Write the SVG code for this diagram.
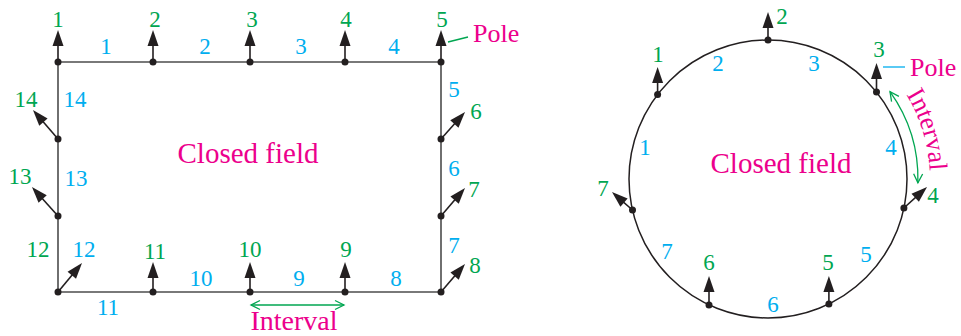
<svg xmlns="http://www.w3.org/2000/svg" width="961" height="336" viewBox="0 0 961 336">
<style>
text{font-family:'Liberation Serif','DejaVu Serif','Times New Roman',serif}
.g{fill:#00a651;font-size:23px;text-anchor:middle}
.b{fill:#00aeef;font-size:23px;text-anchor:middle}
.m{fill:#ec008c}
.edge{stroke:#4d4d4d;stroke-width:1.6;fill:none}
.circ{stroke:#231f20;stroke-width:1.5;fill:none}
.ar{stroke:#231f20;stroke-width:1.6;fill:none;marker-end:url(#ah)}
.dot{fill:#231f20}
.iv{stroke:#00a651;stroke-width:1.3;fill:none;marker-start:url(#oa);marker-end:url(#oa)}
</style>
<defs>
<marker id="ah" markerWidth="16" markerHeight="12" refX="8" refY="5.5" orient="auto" markerUnits="userSpaceOnUse" overflow="visible"><path d="M0,0 L16,5.5 L0,11 z" fill="#231f20"/></marker>
<marker id="oa" markerWidth="10" markerHeight="10" refX="9" refY="4.5" orient="auto-start-reverse" markerUnits="userSpaceOnUse" overflow="visible"><path d="M0,0 L9,4.5 L0,9" fill="none" stroke="#00a651" stroke-width="1.3"/></marker>
<path id="ivpath" d="M906.2,94.5 A162,162 0 0 1 927.5,207.1"/>
</defs>
<rect width="961" height="336" fill="#fff"/>

<g id="connectors">
<path class="edge" d="M58,62 H441 V292 H58 Z"/>
<circle class="circ" cx="768" cy="179" r="139"/>
<line class="ar" x1="58" y1="62" x2="58" y2="38"/>
<line class="ar" x1="153" y1="62" x2="153" y2="38"/>
<line class="ar" x1="250" y1="62" x2="250" y2="38"/>
<line class="ar" x1="345" y1="62" x2="345" y2="38"/>
<line class="ar" x1="441" y1="62" x2="441" y2="38"/>
<line class="ar" x1="441" y1="139" x2="459.7" y2="118"/>
<line class="ar" x1="441" y1="216" x2="459.8" y2="194.1"/>
<line class="ar" x1="441" y1="292" x2="459.8" y2="270.1"/>
<line class="ar" x1="345" y1="292" x2="345" y2="270"/>
<line class="ar" x1="250" y1="292" x2="250" y2="270"/>
<line class="ar" x1="153" y1="292" x2="153" y2="270"/>
<line class="ar" x1="58" y1="292" x2="76.9" y2="269.2"/>
<line class="ar" x1="58" y1="216" x2="37.3" y2="193"/>
<line class="ar" x1="58" y1="139" x2="38.2" y2="116.1"/>
<line class="ar" x1="657.6" y1="94.6" x2="657.6" y2="75"/>
<line class="ar" x1="768" y1="40" x2="768" y2="20"/>
<line class="ar" x1="876.5" y1="92.1" x2="876.5" y2="71"/>
<line class="ar" x1="903.9" y1="208" x2="921.1" y2="192.4"/>
<line class="ar" x1="828.9" y1="303.9" x2="828.9" y2="284"/>
<line class="ar" x1="709" y1="304.9" x2="709" y2="284"/>
<line class="ar" x1="632.5" y1="210" x2="618" y2="197.3"/>
<line class="iv" x1="251" y1="305" x2="344" y2="305"/>
<path class="iv" d="M890,91.7 A150,150 0 0 1 917.9,182.9"/>
<line x1="448" y1="42" x2="468" y2="37" stroke="#00a651" stroke-width="1.3"/>
<line x1="883" y1="67" x2="905" y2="67" stroke="#00aeef" stroke-width="1.3"/>
</g>

<g id="rect-nodes">
<g id="r1"><circle class="dot" cx="58" cy="62" r="3.5"/><text class="g" x="58" y="27">1</text></g>
<g id="r2"><circle class="dot" cx="153" cy="62" r="3.5"/><text class="g" x="155" y="27">2</text></g>
<g id="r3"><circle class="dot" cx="250" cy="62" r="3.5"/><text class="g" x="252" y="27">3</text></g>
<g id="r4"><circle class="dot" cx="345" cy="62" r="3.5"/><text class="g" x="346" y="27">4</text></g>
<g id="r5"><circle class="dot" cx="441" cy="62" r="3.5"/><text class="g" x="442" y="27">5</text></g>
<g id="r6"><circle class="dot" cx="441" cy="139" r="3.5"/><text class="g" x="476" y="119">6</text></g>
<g id="r7"><circle class="dot" cx="441" cy="216" r="3.5"/><text class="g" x="474" y="197">7</text></g>
<g id="r8"><circle class="dot" cx="441" cy="292" r="3.5"/><text class="g" x="475" y="273">8</text></g>
<g id="r9"><circle class="dot" cx="345" cy="292" r="3.5"/><text class="g" x="346" y="257">9</text></g>
<g id="r10"><circle class="dot" cx="250" cy="292" r="3.5"/><text class="g" x="250" y="257">10</text></g>
<g id="r11"><circle class="dot" cx="153" cy="292" r="3.5"/><text class="g" x="155" y="259">11</text></g>
<g id="r12"><circle class="dot" cx="58" cy="292" r="3.5"/><text class="g" x="38" y="257">12</text></g>
<g id="r13"><circle class="dot" cx="58" cy="216" r="3.5"/><text class="g" x="20" y="184">13</text></g>
<g id="r14"><circle class="dot" cx="58" cy="139" r="3.5"/><text class="g" x="26" y="107">14</text></g>
</g>

<g id="rect-intervals">
<text class="b" x="106" y="54">1</text>
<text class="b" x="205" y="54">2</text>
<text class="b" x="301" y="54">3</text>
<text class="b" x="394" y="54">4</text>
<text class="b" x="454" y="97">5</text>
<text class="b" x="454" y="176">6</text>
<text class="b" x="454" y="253">7</text>
<text class="b" x="396" y="286">8</text>
<text class="b" x="299" y="286">9</text>
<text class="b" x="201" y="286">10</text>
<text class="b" x="108" y="315">11</text>
<text class="b" x="84" y="257">12</text>
<text class="b" x="76" y="186">13</text>
<text class="b" x="75" y="107">14</text>
</g>

<g id="rect-labels">
<text class="m" x="248" y="163" font-size="29" text-anchor="middle">Closed field</text>
<text class="m" x="473" y="42" font-size="26">Pole</text>
<text class="m" x="294" y="330" font-size="28" text-anchor="middle">Interval</text>
</g>

<g id="circle-nodes">
<g id="c1"><circle class="dot" cx="657.6" cy="94.6" r="3.5"/><text class="g" x="658" y="62">1</text></g>
<g id="c2"><circle class="dot" cx="768" cy="40" r="3.5"/><text class="g" x="782" y="24">2</text></g>
<g id="c3"><circle class="dot" cx="876.5" cy="92.1" r="3.5"/><text class="g" x="879" y="57">3</text></g>
<g id="c4"><circle class="dot" cx="903.9" cy="208" r="3.5"/><text class="g" x="933" y="203">4</text></g>
<g id="c5"><circle class="dot" cx="828.9" cy="303.9" r="3.5"/><text class="g" x="828" y="270">5</text></g>
<g id="c6"><circle class="dot" cx="709" cy="304.9" r="3.5"/><text class="g" x="709" y="270">6</text></g>
<g id="c7"><circle class="dot" cx="632.5" cy="210" r="3.5"/><text class="g" x="603" y="196">7</text></g>
</g>

<g id="circle-intervals">
<text class="b" x="645" y="155">1</text>
<text class="b" x="718" y="71">2</text>
<text class="b" x="814" y="71">3</text>
<text class="b" x="891" y="155">4</text>
<text class="b" x="866" y="262">5</text>
<text class="b" x="773" y="312">6</text>
<text class="b" x="667" y="259">7</text>
</g>

<g id="circle-labels">
<text class="m" x="781" y="173" font-size="29" text-anchor="middle">Closed field</text>
<text class="m" x="910" y="76" font-size="26">Pole</text>
<text class="m" font-size="26"><textPath href="#ivpath">Interval</textPath></text>
</g>
</svg>
